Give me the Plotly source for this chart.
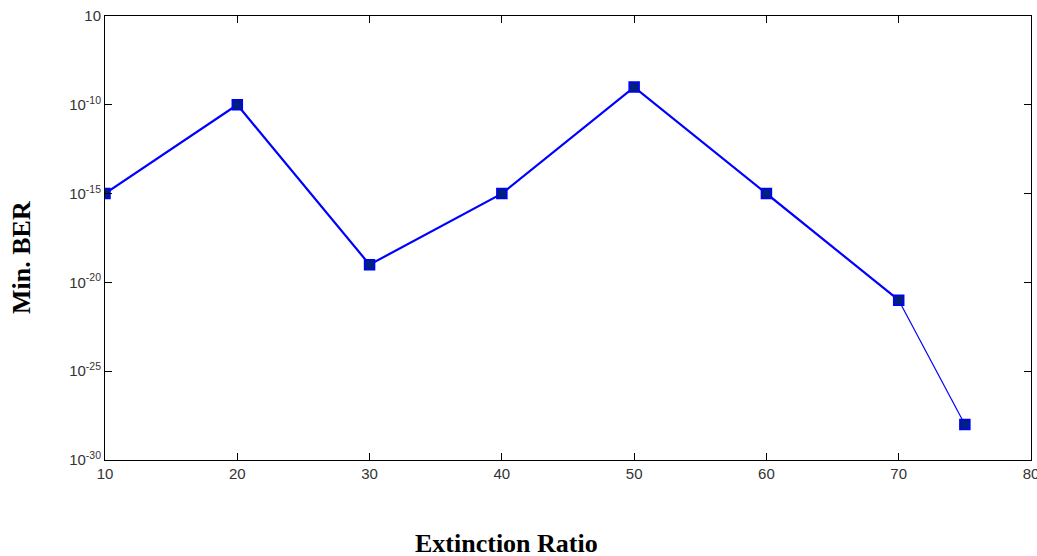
import plotly.graph_objects as go

extinction_ratio = [10, 20, 30, 40, 50, 60, 70, 75]
min_ber = [1e-15, 1e-10, 1e-19, 1e-15, 1e-9, 1e-15, 1e-21, 1e-28]

y_tick_vals = [1e-30, 1e-25, 1e-20, 1e-15, 1e-10, 1e-5]
y_tick_text = ["10<sup>-30</sup>", "10<sup>-25</sup>", "10<sup>-20</sup>",
               "10<sup>-15</sup>", "10<sup>-10</sup>", "10"]
x_tick_vals = [10, 20, 30, 40, 50, 60, 70, 80]

fig = go.Figure()
# thick main line
fig.add_trace(go.Scatter(
    x=extinction_ratio[:-1], y=min_ber[:-1], mode="lines",
    line=dict(color="#0000ff", width=2.2), showlegend=False, hoverinfo="skip"))
# thinner final segment
fig.add_trace(go.Scatter(
    x=extinction_ratio[-2:], y=min_ber[-2:], mode="lines",
    line=dict(color="#0000ff", width=1.2), showlegend=False, hoverinfo="skip"))
# markers
fig.add_trace(go.Scatter(
    x=extinction_ratio, y=min_ber, mode="markers",
    marker=dict(symbol="square", size=10, color="#00207f",
                line=dict(color="#0000ff", width=1.5)),
    showlegend=False))

axis_font = dict(family="Liberation Sans Narrow, Arial Narrow, Liberation Sans, sans-serif",
                 size=15, color="#333333")
title_font = dict(family="Liberation Serif, Times New Roman, serif", size=26, color="#000000")

fig.update_layout(
    width=1037, height=556,
    margin=dict(l=105, r=6, t=16, b=96),
    paper_bgcolor="white", plot_bgcolor="white",
    xaxis=dict(range=[10, 80], tickvals=x_tick_vals, ticks="inside", ticklen=7,
               tickcolor="#000000", showline=True, linecolor="#000000", linewidth=1,
               mirror="ticks", showgrid=False, zeroline=False, tickfont=axis_font,
               automargin=False, ticklabeloverflow="allow"),
    yaxis=dict(type="log", range=[-30, -5], tickvals=y_tick_vals, ticktext=y_tick_text,
               ticks="inside", ticklen=7, tickcolor="#000000", showline=True,
               linecolor="#000000", linewidth=1, mirror="ticks", showgrid=False,
               zeroline=False, tickfont=axis_font, automargin=False,
               ticklabeloverflow="allow"),
    annotations=[
        dict(text="<b>Extinction Ratio</b>", x=0.434, y=-0.187, xref="paper", yref="paper",
             xanchor="center", yanchor="middle", showarrow=False, font=title_font),
        dict(text="<b>Min. BER</b>", x=-0.0896, y=0.455, xref="paper", yref="paper",
             xanchor="center", yanchor="middle", showarrow=False, textangle=-90,
             font=title_font),
    ],
)

fig.write_html("out.html", config={"displayModeBar": False},
               post_script="document.body.style.margin='0';document.body.style.padding='0';")
